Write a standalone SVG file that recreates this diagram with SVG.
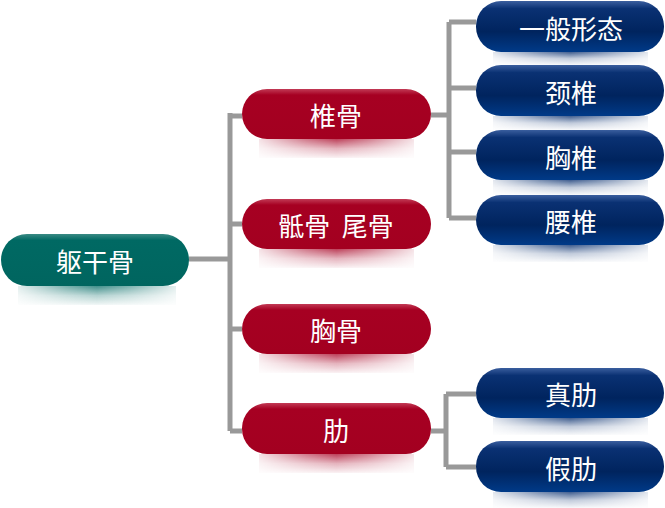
<svg xmlns="http://www.w3.org/2000/svg" width="665" height="508" viewBox="0 0 665 508">
<defs>
<linearGradient id="gRed" x1="0" y1="0" x2="0" y2="1">
<stop offset="0" stop-color="#c23a55"/>
<stop offset="0.12" stop-color="#a60022"/>
<stop offset="1" stop-color="#a30020"/>
</linearGradient>
<linearGradient id="gBlue" x1="0" y1="0" x2="0" y2="1">
<stop offset="0" stop-color="#3a5e9e"/>
<stop offset="0.15" stop-color="#0a3173"/>
<stop offset="0.6" stop-color="#00245e"/>
<stop offset="1" stop-color="#003a88"/>
</linearGradient>
<linearGradient id="gTeal" x1="0" y1="0" x2="0" y2="1">
<stop offset="0" stop-color="#3a8a84"/>
<stop offset="0.12" stop-color="#006963"/>
<stop offset="1" stop-color="#00655f"/>
</linearGradient>
<linearGradient id="hFade" x1="0" y1="0" x2="1" y2="0">
<stop offset="0" stop-color="#fff" stop-opacity="0.15"/>
<stop offset="0.3" stop-color="#fff" stop-opacity="0.7"/>
<stop offset="0.5" stop-color="#fff" stop-opacity="1"/>
<stop offset="0.7" stop-color="#fff" stop-opacity="0.7"/>
<stop offset="1" stop-color="#fff" stop-opacity="0.15"/>
</linearGradient>
<mask id="m" maskContentUnits="objectBoundingBox">
<rect x="0" y="0" width="1" height="1" fill="url(#hFade)"/>
</mask>
<linearGradient id="sRed" x1="0" y1="0" x2="0" y2="1">
<stop offset="0" stop-color="#a60022" stop-opacity="0.75"/>
<stop offset="0.5" stop-color="#a60022" stop-opacity="0.3"/>
<stop offset="1" stop-color="#a60022" stop-opacity="0.05"/>
</linearGradient>
<linearGradient id="sBlue" x1="0" y1="0" x2="0" y2="1">
<stop offset="0" stop-color="#00286a" stop-opacity="0.75"/>
<stop offset="0.5" stop-color="#00286a" stop-opacity="0.25"/>
<stop offset="1" stop-color="#00286a" stop-opacity="0.03"/>
</linearGradient>
<linearGradient id="sTeal" x1="0" y1="0" x2="0" y2="1">
<stop offset="0" stop-color="#006963" stop-opacity="0.75"/>
<stop offset="0.5" stop-color="#006963" stop-opacity="0.3"/>
<stop offset="1" stop-color="#006963" stop-opacity="0.05"/>
</linearGradient>
</defs>
<style>
.t{font-family:"Noto Sans CJK SC","Noto Sans",sans-serif;font-size:26px;fill:#ffffff;text-anchor:middle;dominant-baseline:central}
.c{fill:none;stroke:#999999;stroke-width:5}
.s{mask:url(#m)}
</style>
<g id="connectors">
<path class="c" d="M189 259 H230 M230 113 V431 M230 116 H242 M230 224 H242 M230 329 H242 M230 431 H242"/>
<path class="c" d="M431 115 H449 M449 22 V218 M449 22 H476 M449 88 H476 M449 152 H476 M449 218 H476"/>
<path class="c" d="M431 431 H446 M446 394 V467 M446 394 H476 M446 467 H476"/>
</g>
<g id="n-root">
<rect class="s" x="18" y="286" width="158" height="19" fill="url(#sTeal)"/>
<rect x="1" y="234" width="188" height="52" rx="26" fill="url(#gTeal)"/>
<text class="t" x="95" y="260">躯干骨</text>
</g>
<g id="n-zhuigu">
<rect class="s" x="259" y="139" width="155" height="19" fill="url(#sRed)"/>
<rect x="242" y="89" width="189" height="50" rx="25" fill="url(#gRed)"/>
<text class="t" x="336" y="114">椎骨</text>
</g>
<g id="n-digu">
<rect class="s" x="259" y="249" width="155" height="19" fill="url(#sRed)"/>
<rect x="242" y="199" width="189" height="50" rx="25" fill="url(#gRed)"/>
<text class="t" x="336" y="224" xml:space="preserve">骶骨  尾骨</text>
</g>
<g id="n-xionggu">
<rect class="s" x="259" y="354" width="155" height="19" fill="url(#sRed)"/>
<rect x="242" y="304" width="189" height="50" rx="25" fill="url(#gRed)"/>
<text class="t" x="336" y="329">胸骨</text>
</g>
<g id="n-lei">
<rect class="s" x="259" y="454" width="155" height="19" fill="url(#sRed)"/>
<rect x="242" y="403" width="189" height="51" rx="25" fill="url(#gRed)"/>
<text class="t" x="336" y="429">肋</text>
</g>
<g id="n-yiban">
<rect class="s" x="493" y="52" width="155" height="13" fill="url(#sBlue)"/>
<rect x="476" y="1" width="188" height="51" rx="25" fill="url(#gBlue)"/>
<text class="t" x="571" y="27">一般形态</text>
</g>
<g id="n-jingzhui">
<rect class="s" x="493" y="116" width="155" height="14" fill="url(#sBlue)"/>
<rect x="476" y="65" width="188" height="51" rx="25" fill="url(#gBlue)"/>
<text class="t" x="571" y="91">颈椎</text>
</g>
<g id="n-xiongzhui">
<rect class="s" x="493" y="180" width="155" height="15" fill="url(#sBlue)"/>
<rect x="476" y="130" width="188" height="50" rx="25" fill="url(#gBlue)"/>
<text class="t" x="571" y="156">胸椎</text>
</g>
<g id="n-yaozhui">
<rect class="s" x="493" y="245" width="155" height="17" fill="url(#sBlue)"/>
<rect x="476" y="195" width="188" height="50" rx="25" fill="url(#gBlue)"/>
<text class="t" x="571" y="220">腰椎</text>
</g>
<g id="n-zhenlei">
<rect class="s" x="493" y="418" width="155" height="17" fill="url(#sBlue)"/>
<rect x="476" y="368" width="188" height="50" rx="25" fill="url(#gBlue)"/>
<text class="t" x="571" y="393">真肋</text>
</g>
<g id="n-jialei">
<rect class="s" x="493" y="492" width="155" height="16" fill="url(#sBlue)"/>
<rect x="476" y="441" width="188" height="51" rx="25" fill="url(#gBlue)"/>
<text class="t" x="571" y="467">假肋</text>
</g>
</svg>
